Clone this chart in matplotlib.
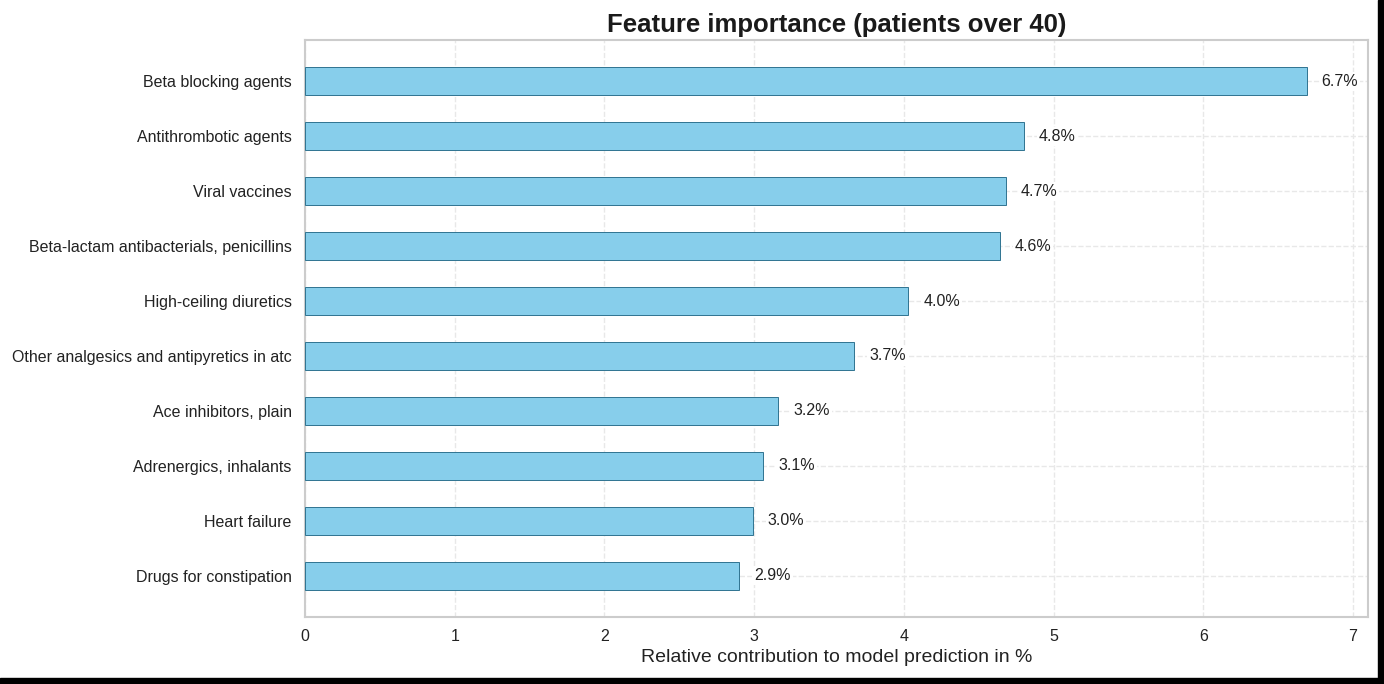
import numpy as np
import matplotlib
matplotlib.use("Agg")
import matplotlib.pyplot as plt
import seaborn as sns
from matplotlib.patches import Rectangle

sns.set_style("whitegrid", {"grid.linestyle": "--"})
plt.rcParams["font.sans-serif"] = ["Liberation Sans", "Arial", "DejaVu Sans"]
plt.rcParams["font.family"] = ["Liberation Sans", "DejaVu Sans"]

# Features (top to bottom) and their relative contribution in %
features = [
    "Beta blocking agents",
    "Antithrombotic agents",
    "Viral vaccines",
    "Beta-lactam antibacterials, penicillins",
    "High-ceiling diuretics",
    "Other analgesics and antipyretics in atc",
    "Ace inhibitors, plain",
    "Adrenergics, inhalants",
    "Heart failure",
    "Drugs for constipation",
]
importance = [6.69, 4.80, 4.68, 4.64, 4.03, 3.67, 3.16, 3.06, 2.99, 2.90]

fig = plt.figure(figsize=(13.84, 6.84), dpi=100)
ax = fig.add_axes([305 / 1384, 1 - 617 / 684, 1063 / 1384, 577 / 684])

y = np.arange(len(features))[::-1]
ax.barh(y, importance, height=0.5, color="skyblue",
        edgecolor="#2f7390", linewidth=0.7, zorder=3)

for yi, v in zip(y, importance):
    ax.text(v + 0.1, yi, f"{v:.1f}%", va="center", ha="left",
            fontsize=11.5, color="#222222", zorder=4,
            bbox=dict(facecolor="white", edgecolor="none", pad=1.5))

ax.set_yticks(y)
ax.set_yticklabels(features, fontsize=11.5, color="#222222")
ax.tick_params(axis="y", pad=6)
ax.set_ylim(-0.75, len(features) - 0.25)
ax.set_xlim(0, 7.1)
ax.set_xticks(range(8))
ax.tick_params(axis="x", labelsize=11.5, labelcolor="#222222", pad=5)
ax.set_xlabel("Relative contribution to model prediction in %", fontsize=14,
              color="#222222", labelpad=4)
ax.set_title("Feature importance (patients over 40)", fontsize=18.5,
             fontweight="bold", color="#1a1a1a", pad=6)

ax.grid(True, linestyle="--", color="#e8e8e8", linewidth=1.0, zorder=0)
ax.set_axisbelow(True)
for s in ax.spines.values():
    s.set_color("#cccccc")
    s.set_linewidth(1.5)

# black frame on right and bottom edges
fig.patches.append(Rectangle((1 - 6 / 1384, 0), 6 / 1384, 1,
                             transform=fig.transFigure, color="black"))
fig.patches.append(Rectangle((0, 0), 1, 6 / 684,
                             transform=fig.transFigure, color="black"))

fig.savefig("out.png", dpi=100)
